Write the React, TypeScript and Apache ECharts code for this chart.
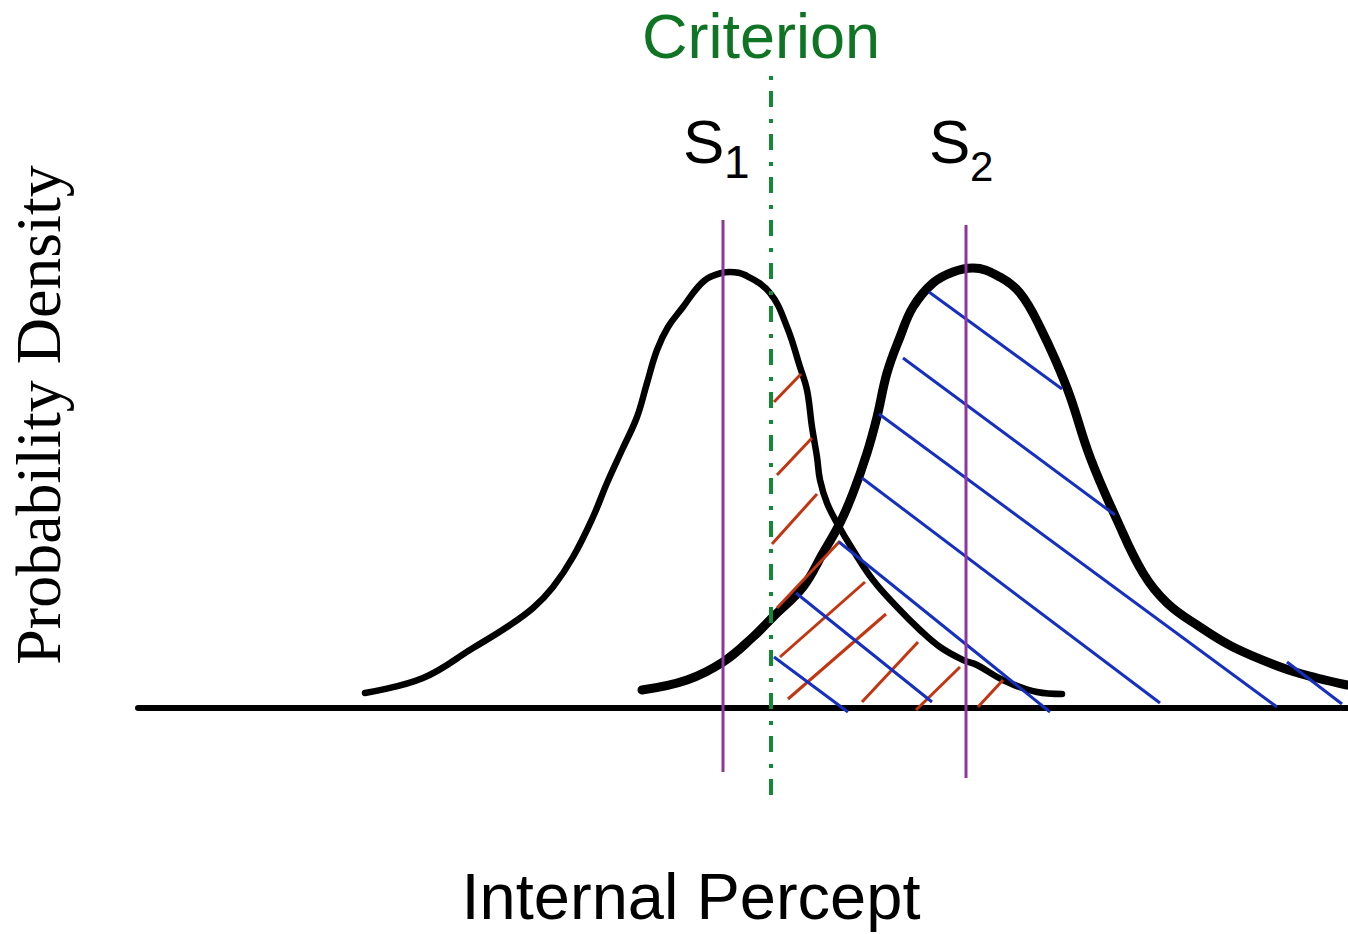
import React, { useEffect, useRef } from "react";
import * as echarts from "echarts";

// Hand-drawn density of the internal percept for stimulus S1 (noise)
const s1Curve: [number, number][] = [
  [22.7, 0.03], [28.5, 0.06], [33.5, 0.12], [36.9, 0.162], [39.5, 0.2],
  [41.5, 0.242], [43.5, 0.302], [45.5, 0.382], [46.9, 0.45], [48.4, 0.516],
  [49.9, 0.582], [50.9, 0.65], [51.9, 0.716], [53.0, 0.762], [54.5, 0.802],
  [56.0, 0.842], [57.2, 0.862], [59.2, 0.872], [60.7, 0.866], [63.2, 0.83],
  [64.9, 0.762], [66.2, 0.682], [66.9, 0.636], [67.4, 0.562], [67.9, 0.502],
  [68.2, 0.456], [68.9, 0.41], [69.9, 0.37], [71.5, 0.316], [73.5, 0.256],
  [75.9, 0.202], [78.2, 0.156], [80.2, 0.122], [82.5, 0.096], [83.9, 0.086],
  [86.5, 0.056], [89.9, 0.032], [92.4, 0.028],
];

// Hand-drawn density for stimulus S2 (signal)
const s2Curve: [number, number][] = [
  [50.4, 0.036], [54.9, 0.056], [58.5, 0.092], [61.5, 0.142], [63.5, 0.182],
  [66.5, 0.242], [68.5, 0.31], [70.2, 0.37], [71.5, 0.43], [72.9, 0.51],
  [73.9, 0.582], [74.9, 0.67], [76.2, 0.742], [77.5, 0.802], [79.5, 0.85],
  [81.5, 0.872], [83.5, 0.88], [86.2, 0.862], [88.2, 0.83], [90.2, 0.762],
  [92.9, 0.64], [95.2, 0.502], [97.9, 0.376], [100.5, 0.27], [102.9, 0.21],
  [106.2, 0.162], [109.5, 0.122], [114.5, 0.08], [117.9, 0.06], [120.9, 0.046],
];

// Means of the two distributions and the decision criterion
const s1Mean: [number, number][] = [[58.5, 0.976], [58.5, -0.128]];
const s2Mean: [number, number][] = [[82.8, 0.966], [82.8, -0.14]];
const criterionLine: [number, number][] = [[63.3, -0.174], [63.3, 1.264]];

// False-alarm hatching (S1 area beyond the criterion): [x1, y1, x2, y2]
const falseAlarmHatch: number[][] = [
  [63.6, 0.612, 66.3, 0.668],
  [63.9, 0.466, 67.4, 0.54],
  [63.4, 0.328, 67.9, 0.428],
  [63.9, 0.2, 70.2, 0.334],
  [64.2, 0.102, 72.7, 0.252],
  [65.0, 0.018, 74.8, 0.188],
  [72.4, 0.012, 78.0, 0.132],
  [77.8, -0.004, 82.2, 0.082],
  [84.0, 0.002, 86.5, 0.056],
];

// Hit hatching (S2 area beyond the criterion): [x1, y1, x2, y2]
const hitHatch: number[][] = [
  [79.1, 0.832, 92.4, 0.638],
  [76.5, 0.7, 97.7, 0.386],
  [74.1, 0.588, 113.9, 0.002],
  [72.4, 0.46, 102.2, 0.01],
  [70.1, 0.332, 91.2, -0.008],
  [65.8, 0.23, 79.4, 0.012],
  [63.6, 0.102, 71.0, -0.008],
  [114.9, 0.092, 120.4, 0.008],
];

const xTitle = "Internal Percept";
const yTitle = "Probability Density";
const criterionTitle = "Criterion";

const BLACK = "#000000";
const PURPLE = "#8e35a0";
const GREEN = "#128a34";
const GREEN_TEXT = "#0f7424";
const RED = "#c33510";
const BLUE = "#1530c0";
const SANS = "'Liberation Sans', Arial, sans-serif";
const SERIF = "'Liberation Serif', 'Times New Roman', serif";

const toSegments = (rows: number[][]) =>
  rows.map((r) => ({ coords: [[r[0], r[1]], [r[2], r[3]]] }));

const verticalSeries = (data: [number, number][], color: string, width: number, type: any) => ({
  type: "line",
  data,
  showSymbol: false,
  silent: true,
  lineStyle: { color, width, type, cap: "butt" },
  z: 5,
});

const curveSeries = (data: [number, number][], width: number) => ({
  type: "line",
  data,
  smooth: 0.4,
  showSymbol: false,
  silent: true,
  lineStyle: { color: BLACK, width, cap: "round", join: "round" },
  z: 2,
});

export default function App() {
  const ref = useRef<HTMLDivElement>(null);

  useEffect(() => {
    if (!ref.current) return;
    const chart = echarts.init(ref.current, undefined, { renderer: "svg" });
    chart.setOption({
      animation: false,
      backgroundColor: "#ffffff",
      grid: { left: 138, right: 0, top: 0, bottom: 0 },
      xAxis: {
        type: "value",
        min: 0,
        max: 121,
        axisLine: { show: true, onZero: true, lineStyle: { color: BLACK, width: 6 } },
        axisTick: { show: false },
        axisLabel: { show: false },
        splitLine: { show: false },
      },
      yAxis: {
        type: "value",
        min: -0.452,
        max: 1.416,
        axisLine: { show: false },
        axisTick: { show: false },
        axisLabel: { show: false },
        splitLine: { show: false },
      },
      series: [
        curveSeries(s1Curve, 6.5),
        curveSeries(s2Curve, 9),
        {
          type: "lines",
          coordinateSystem: "cartesian2d",
          polyline: false,
          silent: true,
          data: toSegments(falseAlarmHatch),
          lineStyle: { color: RED, width: 3, opacity: 1, curveness: 0 },
          z: 3,
        },
        {
          type: "lines",
          coordinateSystem: "cartesian2d",
          polyline: false,
          silent: true,
          data: toSegments(hitHatch),
          lineStyle: { color: BLUE, width: 3, opacity: 1, curveness: 0 },
          z: 3,
        },
        verticalSeries(s1Mean, PURPLE, 3, "solid"),
        verticalSeries(s2Mean, PURPLE, 3, "solid"),
        verticalSeries(criterionLine, GREEN, 4, [16, 11, 4, 12]),
      ],
      graphic: [
        {
          type: "text",
          x: 761,
          y: 36,
          style: {
            text: criterionTitle,
            fill: GREEN_TEXT,
            font: `63px ${SANS}`,
            align: "center",
            verticalAlign: "middle",
          },
        },
        {
          type: "text",
          x: 683,
          y: 141,
          style: { text: "S", fill: BLACK, font: `62px ${SANS}`, align: "left", verticalAlign: "middle" },
        },
        {
          type: "text",
          x: 724,
          y: 162,
          style: { text: "1", fill: BLACK, font: `46px ${SANS}`, align: "left", verticalAlign: "middle" },
        },
        {
          type: "text",
          x: 929,
          y: 141,
          style: { text: "S", fill: BLACK, font: `62px ${SANS}`, align: "left", verticalAlign: "middle" },
        },
        {
          type: "text",
          x: 970,
          y: 166,
          style: { text: "2", fill: BLACK, font: `42px ${SANS}`, align: "left", verticalAlign: "middle" },
        },
        {
          type: "text",
          x: 691,
          y: 896,
          style: { text: xTitle, fill: BLACK, font: `65px ${SANS}`, align: "center", verticalAlign: "middle" },
        },
        {
          type: "text",
          x: 38,
          y: 415,
          rotation: Math.PI / 2,
          style: { text: yTitle, fill: BLACK, font: `64px ${SERIF}`, align: "center", verticalAlign: "middle" },
        },
      ],
    });
    return () => chart.dispose();
  }, []);

  return (
    <div
      ref={ref}
      style={{ position: "fixed", left: 0, top: 0, width: 1348, height: 934, background: "#fff" }}
    />
  );
}
